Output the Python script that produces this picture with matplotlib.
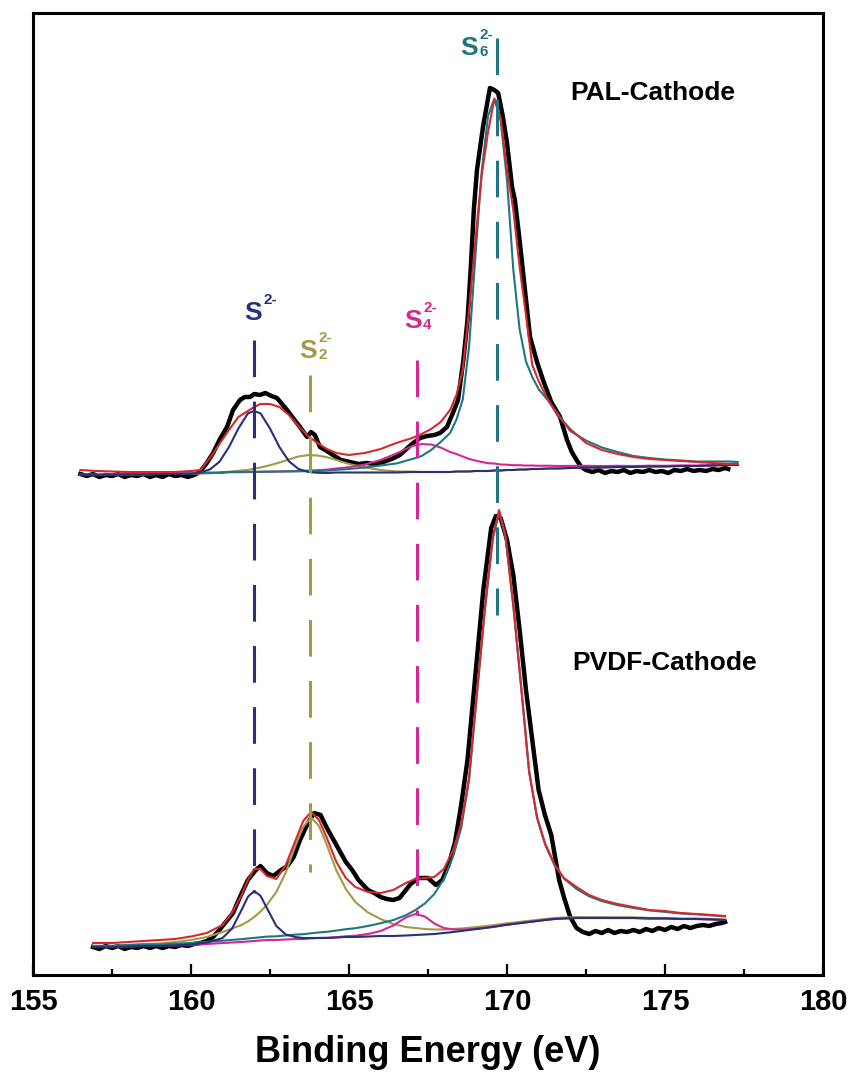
import numpy as np
import matplotlib.pyplot as plt
from matplotlib.ticker import MultipleLocator

plt.rcParams['font.family'] = ['Liberation Sans', 'DejaVu Sans']

NAVY = '#27307a'
OLIVE = '#a39a48'
MAGENTA = '#d42694'
TEAL = '#1f7680'
RED = '#d8282c'

# ---- PAL-Cathode (upper spectrum) ----
pal_be = [156.5, 157.0, 157.5, 158.0, 158.5, 159.0, 159.5, 160.0, 160.3, 160.6,
          160.9, 161.2, 161.5, 161.8, 162.0, 162.2, 162.5, 162.8, 163.1, 163.4,
          163.7, 164.0, 164.3, 164.6, 165.0, 165.5, 166.0, 166.5, 167.0, 167.3,
          167.6, 167.9, 168.2, 168.4, 168.6, 168.8, 169.0, 169.2, 169.4, 169.6,
          169.8, 170.0, 170.2, 170.4, 170.6, 170.8, 171.0, 171.3, 171.6, 172.0,
          172.5, 173.0, 173.5, 174.0, 174.5, 175.0, 175.5, 176.0, 176.5, 177.0, 177.3]
pal_background = [500, 500, 500, 500.5, 500.5, 501, 501, 501, 501.5, 501.5,
                  501.5, 502, 502, 502, 502, 502, 502, 502, 502, 502,
                  502, 502, 502, 502.5, 502.5, 502.5, 502.5, 502.5, 503, 503,
                  503, 503, 503, 503.5, 503.5, 503.5, 504, 504, 504, 504.5,
                  504.5, 505, 505, 505.5, 505.5, 506, 506, 506.5, 506.5, 507,
                  507.5, 507.5, 508, 508, 508.5, 508.5, 509, 509, 509.5, 510, 510]
pal_s2 = [0, 0, 0, 0, 0, 0, 0, 0, 1.1, 4.1,
          11.7, 25.9, 44.5, 59.6, 62, 59.6, 44.5, 25.9, 11.7, 4.1,
          1.1, 0.2, 0, 0, 0, 0, 0, 0, 0, 0,
          0, 0, 0, 0, 0, 0, 0, 0, 0, 0,
          0, 0, 0, 0, 0, 0, 0, 0, 0, 0,
          0, 0, 0, 0, 0, 0, 0, 0, 0, 0, 0]
pal_s2_2 = [0, 0, 0, 0, 0, 0, 0, 0, 0, 0.3,
            0.7, 1.3, 2.2, 3, 4.5, 5.5, 7.8, 10.5, 13.5, 16.5,
            17.9, 17.5, 15.8, 12.5, 8.5, 5, 2.5, 1.1, 0.4, 0,
            0, 0, 0, 0, 0, 0, 0, 0, 0, 0,
            0, 0, 0, 0, 0, 0, 0, 0, 0, 0,
            0, 0, 0, 0, 0, 0, 0, 0, 0, 0, 0]
pal_s4 = [0.2, 0.2, 0.2, 0.3, 0.3, 0.3, 0.4, 0.4, 0.5, 0.5,
          0.6, 0.7, 0.8, 0.9, 1, 1.1, 1.3, 1.5, 1.7, 2,
          2.4, 2.8, 3.3, 4, 5.3, 8, 12.5, 19, 26, 27.9,
          27.5, 24.5, 20, 17.5, 15, 12.5, 10.5, 9, 7.8, 7,
          6, 5.3, 4.8, 4.3, 3.9, 3.5, 3.2, 2.8, 2.5, 2.1,
          1.7, 1.4, 1.2, 1, 0.8, 0.7, 0.6, 0.5, 0.4, 0.4, 0.4]
pal_s6 = [0.5, 0.5, 0.6, 0.6, 0.7, 0.7, 0.8, 0.8, 0.9, 0.9,
          1.0, 1.0, 1.1, 1.2, 1.2, 1.3, 1.4, 1.5, 1.6, 1.7,
          1.9, 2.0, 2.3, 2.7, 3.5, 5, 7, 9, 13, 16,
          22, 30, 39, 52, 72, 125, 215, 300, 355, 372,
          350, 290, 200, 140, 108, 92, 80, 68, 55, 37,
          27, 20, 15, 11, 8.5, 7, 5.5, 4.5, 4, 3.5, 3]
pal_envelope = [505, 504, 503.5, 503, 503, 503, 503, 504, 505, 517,
                531, 545, 558, 564, 568, 571, 571, 568, 560, 549,
                539, 532, 526, 522, 520, 522, 526, 532, 537, 541,
                546, 553, 565, 580, 605, 665, 735, 800, 843, 876,
                857, 805, 765, 708, 660, 610, 594, 575, 560, 546,
                532, 525, 521, 518, 516, 515, 514, 513, 512, 511, 511]
pal_raw_be = [156.5, 156.7, 156.9, 157.1, 157.3, 157.5, 157.7, 157.9, 158.1, 158.3,
              158.5, 158.7, 158.9, 159.1, 159.3, 159.5, 159.7, 159.9, 160.1, 160.28,
              160.5, 160.7, 160.9, 161.14, 161.33, 161.55, 161.7, 161.87, 162.0, 162.18,
              162.35, 162.55, 162.72, 162.88, 163.04, 163.23, 163.45, 163.67, 163.8, 163.92,
              164.08, 164.25, 164.49, 164.75, 165.03, 165.3, 165.57, 165.8, 166.08, 166.35,
              166.61, 166.85, 167.03, 167.25, 167.47, 167.7, 167.88, 168.1, 168.3, 168.45,
              168.62, 168.75, 168.85, 168.95, 169.05, 169.24, 169.46, 169.6, 169.72, 169.86,
              170.0, 170.16, 170.25, 170.38, 170.5, 170.62, 170.73, 170.95, 171.14, 171.4,
              171.68, 171.9, 172.05, 172.2, 172.35, 172.5, 172.7, 172.9, 173.1, 173.3,
              173.5, 173.7, 173.9, 174.1, 174.3, 174.5, 174.7, 174.9, 175.1, 175.3,
              175.5, 175.7, 175.9, 176.1, 176.3, 176.5, 176.7, 176.9, 177.0]
pal_raw = [501, 499, 501, 498, 500, 499, 501, 498, 500, 499,
           501, 498, 500, 498, 501, 499, 500, 498, 500, 503,
           512, 522, 535, 548, 565, 575, 578, 578, 581, 580,
           582, 579, 577, 571, 565, 557, 548, 538, 543, 540,
           528, 525, 520, 515, 513, 511, 512, 511, 513, 516,
           520, 527, 532, 537, 539, 540, 542, 548, 563, 575,
           615, 655, 705, 765, 805, 848, 887, 885, 882, 860,
           832, 788, 775, 740, 705, 670, 638, 613, 595, 573,
           558, 535, 523, 515, 508, 505, 503, 505, 502, 504,
           503, 505, 502, 504, 503, 505, 503, 504, 502, 505,
           504, 506, 504, 505, 504, 506, 505, 507, 506]

# ---- PVDF-Cathode (lower spectrum) ----
pvdf_be = [156.9, 157.5, 158.0, 158.5, 159.0, 159.5, 160.0, 160.5, 161.0, 161.3,
           161.6, 161.8, 162.0, 162.2, 162.4, 162.7, 163.0, 163.3, 163.55, 163.8,
           164.05, 164.3, 164.6, 164.9, 165.2, 165.6, 166.0, 166.4, 166.8, 167.1,
           167.4, 167.7, 168.0, 168.3, 168.55, 168.8, 169.05, 169.3, 169.55, 169.75,
           169.95, 170.2, 170.45, 170.7, 170.95, 171.2, 171.5, 171.8, 172.2, 172.6,
           173.0, 173.5, 174.0, 174.5, 175.0, 175.5, 176.0, 176.5, 176.9]
pvdf_background = [28, 28, 28.5, 29, 29, 29.5, 30, 31, 32, 32.5,
                   33, 33.5, 34, 34.5, 35, 35, 35.5, 36, 36, 36.5,
                   37, 37, 37.5, 38, 38, 38.5, 39, 39, 39.5, 40,
                   40.5, 41, 42, 43, 44, 45, 46, 47, 48, 49,
                   50, 51, 52, 53, 54, 55, 56, 56.5, 57, 57,
                   57, 57, 57, 56.5, 56.5, 56, 56, 55.5, 55]
pvdf_s2 = [0, 0, 0, 0, 0, 0, 0.5, 1.5, 5, 14,
           32, 44.7, 50, 44.7, 32, 14, 5, 2, 1, 0.5,
           0, 0, 0, 0, 0, 0, 0, 0, 0, 0,
           0, 0, 0, 0, 0, 0, 0, 0, 0, 0,
           0, 0, 0, 0, 0, 0, 0, 0, 0, 0,
           0, 0, 0, 0, 0, 0, 0, 0, 0]
pvdf_s2_2 = [0.8, 1, 1.5, 2, 2.5, 3.5, 5, 7, 11, 14,
             17, 20, 24, 29, 35, 48, 67, 93, 112, 121,
             112, 93, 67, 48, 35, 24, 17, 12, 8.5, 7,
             5.5, 4.5, 3.5, 3, 2.5, 2.2, 2, 1.8, 1.7, 1.6,
             1.5, 1.4, 1.3, 1.2, 1.1, 1, 1, 0.9, 0.9, 0.8,
             0.8, 0.7, 0.7, 0.6, 0.6, 0.5, 0.5, 0.5, 0.5]
pvdf_s4 = [0, 0, 0, 0, 0, 0, 0, 0, 0, 0,
           0, 0, 0, 0, 0, 0, 0, 0, 0, 0.1,
           0.1, 0.2, 0.3, 0.7, 1.3, 2.5, 5, 10.5, 18, 21,
           18, 10.5, 5, 2.5, 1.3, 0.7, 0.4, 0.2, 0.2, 0.2,
           0.1, 0.1, 0.1, 0.1, 0, 0, 0, 0, 0, 0,
           0, 0, 0, 0, 0, 0, 0, 0, 0]
pvdf_s6 = [1.1, 1.2, 1.4, 1.5, 1.6, 1.8, 2.0, 2.2, 2.4, 2.6,
           2.8, 3.0, 3.1, 3.2, 3.4, 3.7, 4.0, 4.4, 4.8, 5.2,
           5.6, 6.2, 6.9, 7.8, 8.8, 10.5, 12.8, 15.9, 20.3, 24.9,
           31, 40, 54, 76, 103, 150, 235, 318, 388, 414,
           388, 318, 235, 150, 103, 76, 54, 40, 29, 21.7,
           16.9, 12.8, 10, 8.1, 6.6, 5.5, 4.7, 4.0, 3.6]
pvdf_envelope = [32, 32, 33, 34, 35, 36, 38.5, 42, 50, 62,
                 80, 95, 106, 106, 99, 96, 110, 134, 154, 163,
                 155, 137, 113, 97, 88, 83, 82, 85, 92, 96,
                 97, 98, 106, 125, 151, 198, 283, 367, 438, 465,
                 440, 370, 288, 204, 158, 132, 111, 97, 88, 80,
                 75, 71, 68, 65, 64, 62, 61, 60, 59]
pvdf_raw_be = [156.9, 157.1, 157.3, 157.5, 157.7, 157.9, 158.1, 158.3, 158.5, 158.7,
               158.9, 159.1, 159.3, 159.5, 159.7, 159.9, 160.1, 160.3, 160.5, 160.7,
               160.9, 161.1, 161.33, 161.55, 161.8, 162.05, 162.2, 162.4, 162.6, 162.85,
               163.05, 163.25, 163.45, 163.7, 163.9, 164.1, 164.3, 164.6, 164.9, 165.1,
               165.3, 165.6, 165.8, 166.0, 166.2, 166.4, 166.6, 166.8, 166.95, 167.2,
               167.5, 167.75, 167.95, 168.15, 168.35, 168.55, 168.75, 169.0, 169.25, 169.5,
               169.65, 169.8, 170.0, 170.2, 170.4, 170.6, 170.8, 171.0, 171.2, 171.4,
               171.65, 171.8, 172.0, 172.2, 172.4, 172.6, 172.8, 173.0, 173.2, 173.4,
               173.6, 173.8, 174.0, 174.2, 174.4, 174.6, 174.8, 175.0, 175.2, 175.4,
               175.6, 175.8, 176.0, 176.2, 176.4, 176.6, 176.8, 176.9]
pvdf_raw = [28, 26, 29, 27, 29, 26, 28, 27, 29, 27,
            29, 27, 29, 28, 30, 29, 31, 32, 34, 38,
            45, 53, 62, 78, 95, 105, 109, 102, 99, 105,
            109, 118, 135, 152, 162, 160, 147, 130, 113, 105,
            95, 85, 82, 78, 76, 75, 77, 85, 91, 97,
            97, 90, 95, 110, 132, 170, 215, 300, 385, 447,
            459, 457, 435, 400, 345, 285, 235, 185, 160, 140,
            95, 78, 58, 47, 43, 41, 44, 42, 45, 42,
            44, 43, 45, 43, 46, 44, 47, 45, 48, 46,
            49, 47, 49, 50, 49, 51, 52, 53]

# peak positions (binding energy) for the marker lines
peak_s2 = 162.0
peak_s2_2 = 163.77
peak_s4 = 167.15
peak_s6 = 169.68

fig = plt.figure(figsize=(8.53, 10.79), dpi=100)
ax = fig.add_axes([33 / 853, 1 - 975 / 1079, 790 / 853, 962 / 1079])


def draw_spectrum(be, bg, comps, env, raw_be, raw):
    bg = np.array(bg)
    ax.plot(raw_be, raw, color='black', lw=3.2, zorder=2, solid_joinstyle='round')
    for vals, col in comps:
        ax.plot(be, bg + np.array(vals), color=col, lw=1.5, zorder=3)
    ax.plot(be, env, color=RED, lw=1.5, zorder=4)


def species_label(x, y, sub, color):
    # "S" with stacked charge superscript and optional chain-length subscript
    ax.annotate('S', (x, y), ha='right', va='baseline', fontsize=19,
                fontweight='bold', color=color)
    ax.annotate('2-', (x, y), xytext=(0.8, 11.5), textcoords='offset points',
                ha='left', va='baseline', fontsize=11, fontweight='bold', color=color)
    if sub:
        ax.annotate(sub, (x, y), xytext=(0.8, -0.5), textcoords='offset points',
                    ha='left', va='baseline', fontsize=11, fontweight='bold', color=color)


draw_spectrum(pal_be, pal_background,
              [(pal_s2_2, OLIVE), (pal_s4, MAGENTA), (pal_s6, TEAL), (pal_s2, NAVY)],
              pal_envelope, pal_raw_be, pal_raw)
draw_spectrum(pvdf_be, pvdf_background,
              [(pvdf_s2_2, OLIVE), (pvdf_s4, MAGENTA), (pvdf_s6, TEAL), (pvdf_s2, NAVY)],
              pvdf_envelope, pvdf_raw_be, pvdf_raw)

# dashed guide lines through both spectra
dash = (0, (12, 8))
ax.plot([peak_s2, peak_s2], [635, 82], color=NAVY, lw=2.2, ls=dash, zorder=5)
ax.plot([peak_s2_2, peak_s2_2], [600, 103], color=OLIVE, lw=2.2, ls=dash, zorder=5)
ax.plot([peak_s4, peak_s4], [615, 60], color=MAGENTA, lw=2.2, ls=dash, zorder=5)
ax.plot([peak_s6, peak_s6], [937, 360], color=TEAL, lw=2.2, ls=dash, zorder=5)

species_label(162.25, 655, '', NAVY)
species_label(163.99, 617, '2', OLIVE)
species_label(167.31, 647, '4', MAGENTA)
species_label(169.08, 920, '6', TEAL)

ax.text(174.62, 882, 'PAL-Cathode', fontsize=19, fontweight='bold', ha='center', va='center')
ax.text(175.0, 312, 'PVDF-Cathode', fontsize=19, fontweight='bold', ha='center', va='center')

ax.set_xlim(155, 180)
ax.set_ylim(0, 962)
ax.set_yticks([])
ax.xaxis.set_major_locator(MultipleLocator(5))
ax.xaxis.set_minor_locator(MultipleLocator(2.5))
ax.tick_params(axis='x', which='major', direction='in', length=8, width=1.6, pad=9)
ax.tick_params(axis='x', which='minor', direction='in', length=4.5, width=1.6)
for s in ax.spines.values():
    s.set_linewidth(2.2)

for lab in ax.get_xticklabels():
    lab.set_fontweight('bold')
    lab.set_fontsize(21)
ax.set_xlabel('Binding Energy (eV)', fontweight='bold', fontsize=26, labelpad=14)

fig.savefig('out.png', dpi=100)
